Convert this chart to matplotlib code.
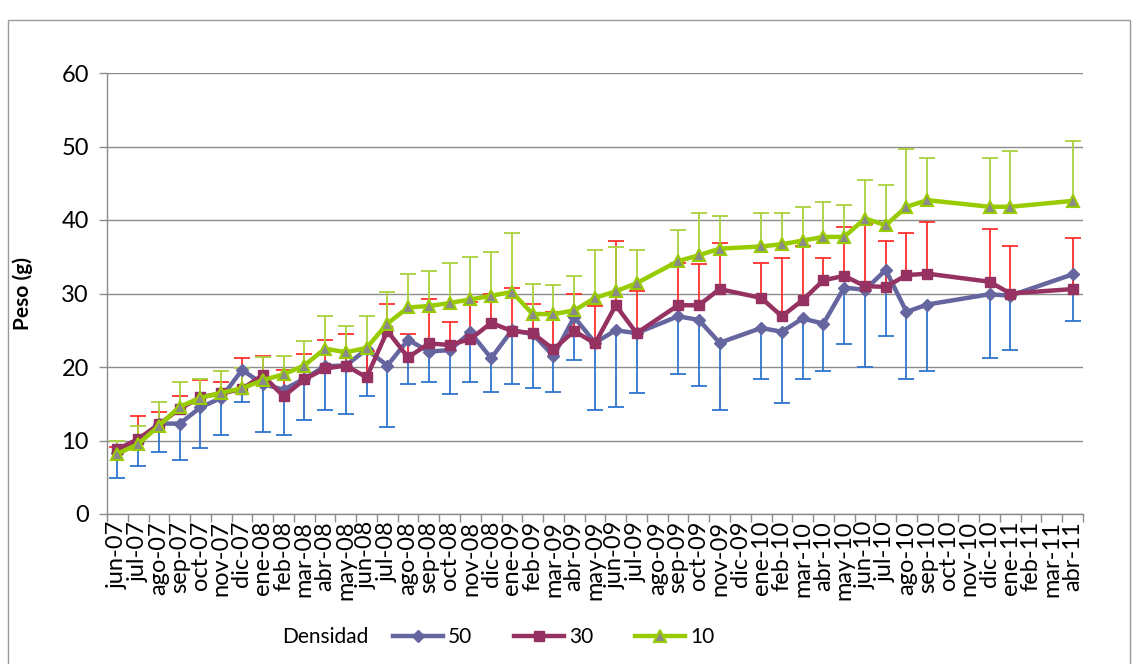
import matplotlib
matplotlib.use("Agg")
import matplotlib.pyplot as plt
from matplotlib.patches import Rectangle

plt.rcParams['font.family'] = ['Lato', 'DejaVu Sans']

# Monthly axis categories
month_labels = [
    "jun-07", "jul-07", "ago-07", "sep-07", "oct-07", "nov-07", "dic-07",
    "ene-08", "feb-08", "mar-08", "abr-08", "may-08", "jun-08", "jul-08",
    "ago-08", "sep-08", "oct-08", "nov-08", "dic-08",
    "ene-09", "feb-09", "mar-09", "abr-09", "may-09", "jun-09", "jul-09",
    "ago-09", "sep-09", "oct-09", "nov-09", "dic-09",
    "ene-10", "feb-10", "mar-10", "abr-10", "may-10", "jun-10", "jul-10",
    "ago-10", "sep-10", "oct-10", "nov-10", "dic-10",
    "ene-11", "feb-11", "mar-11", "abr-11",
]

# Sampling months
sample_months = [
    "jun-07", "jul-07", "ago-07", "sep-07", "oct-07", "nov-07", "dic-07",
    "ene-08", "feb-08", "mar-08", "abr-08", "may-08", "jun-08", "jul-08",
    "ago-08", "sep-08", "oct-08", "nov-08", "dic-08",
    "ene-09", "feb-09", "mar-09", "abr-09", "may-09", "jun-09", "jul-09",
    "sep-09", "oct-09", "nov-09",
    "ene-10", "feb-10", "mar-10", "abr-10", "may-10", "jun-10", "jul-10",
    "ago-10", "sep-10",
    "dic-10", "ene-11", "abr-11",
]

# Mean weight (g) per density
peso_50 = [8.3, 9.9, 12.3, 12.3, 14.5, 15.8, 19.6, 17.7, 16.9, 18.4, 20.1,
           20.2, 22.4, 20.2, 23.7, 22.1, 22.3, 24.7, 21.2, 25.0, 24.5, 21.5,
           26.8, 23.3, 25.0, 24.6, 26.9, 26.4, 23.3, 25.3, 24.8, 26.6, 25.9,
           30.8, 30.5, 33.2, 27.5, 28.5, 29.9, 29.7, 32.6]
peso_30 = [8.8, 10.2, 12.2, 14.3, 15.9, 16.4, 17.0, 18.9, 16.0, 18.3, 19.8,
           20.2, 18.6, 24.9, 21.3, 23.2, 23.0, 23.8, 26.0, 24.9, 24.6, 22.4,
           24.9, 23.2, 28.4, 24.6, 28.4, 28.4, 30.6, 29.4, 26.9, 29.1, 31.8,
           32.4, 31.0, 30.9, 32.5, 32.7, 31.6, 30.0, 30.6]
peso_10 = [8.2, 9.5, 12.0, 14.6, 15.8, 16.5, 17.1, 18.2, 19.0, 20.2, 22.5,
           22.0, 22.6, 25.9, 28.1, 28.3, 28.7, 29.2, 29.7, 30.2, 27.2, 27.2,
           27.7, 29.4, 30.3, 31.4, 34.4, 35.2, 36.1, 36.4, 36.7, 37.2, 37.7,
           37.7, 40.2, 39.3, 41.8, 42.7, 41.8, 41.8, 42.6]

# Standard deviation shown on one side of each series
sd_50 = [3.4, 3.4, 3.8, 4.9, 5.5, 5.1, 4.3, 6.5, 6.2, 5.6, 5.9, 6.6, 6.4, 8.3,
         6.0, 4.2, 6.0, 6.8, 4.6, 7.3, 7.4, 4.9, 5.9, 9.2, 10.4, 8.1, 7.9, 9.0,
         9.2, 6.9, 9.7, 8.2, 6.4, 7.7, 10.5, 9.0, 9.1, 9.0, 8.7, 7.4, 6.3]
sd_30 = [0.3, 3.1, 1.7, 1.7, 2.3, 1.6, 4.2, 2.6, 3.6, 3.5, 3.9, 4.3, 3.6, 3.7,
         3.2, 6.0, 3.1, 5.1, 3.9, 5.9, 4.0, 5.1, 5.1, 5.1, 8.8, 5.8, 5.8, 5.6,
         6.3, 4.8, 7.9, 7.3, 3.0, 6.7, 8.4, 6.3, 5.7, 7.0, 7.2, 6.4, 6.9]
sd_10 = [1.8, 2.5, 3.2, 3.4, 2.5, 2.9, 2.8, 3.1, 2.5, 3.3, 4.5, 3.6, 4.4, 4.3,
         4.6, 4.7, 5.4, 5.7, 6.0, 8.0, 4.1, 3.9, 4.7, 6.5, 6.0, 4.5, 4.2, 5.8,
         4.4, 4.6, 4.3, 4.6, 4.7, 4.3, 5.2, 5.5, 7.9, 5.7, 6.6, 7.6, 8.2]

series_names = ["50", "30", "10"]

C50, C30, C10 = "#65659F", "#953262", "#99CC00"
E50, E30, E10 = "#2F74CF", "#FF3030", "#A9D13C"

W, H = 1137, 664
fig = plt.figure(figsize=(W / 100, H / 100), dpi=100)
ax = fig.add_axes([107 / W, 1 - 514 / H, (1083 - 107) / W, (514 - 73) / H])

xpos = [month_labels.index(m) for m in sample_months]


def one_sided_bars(x, y, err, direction, color):
    ends = [yi + direction * e for yi, e in zip(y, err)]
    ax.vlines(x, y, ends, colors=color, linewidth=1.3, zorder=2)
    ax.plot(x, ends, linestyle="none", marker="_", markersize=11,
            markeredgewidth=1.3, color=color, zorder=2)


one_sided_bars(xpos, peso_50, sd_50, -1, E50)
one_sided_bars(xpos, peso_30, sd_30, +1, E30)
one_sided_bars(xpos, peso_10, sd_10, +1, E10)

l50, = ax.plot(xpos, peso_50, color=C50, lw=3.2, marker="D", ms=6,
               mfc=C50, mec=C50, zorder=3)
l30, = ax.plot(xpos, peso_30, color=C30, lw=3.2, marker="s", ms=7,
               mfc=C30, mec=C30, zorder=4)
l10, = ax.plot(xpos, peso_10, color=C10, lw=3.2, marker="^", ms=8,
               mfc="#8A8A8A", mec=C10, mew=1.5, zorder=5)

# Axes styling
ax.set_xlim(-0.5, len(month_labels) - 0.5)
ax.set_ylim(0, 60)
ax.set_yticks(range(0, 61, 10))
ax.yaxis.grid(True, color="#8C8C8C", linewidth=1.0)
ax.set_axisbelow(True)
for side in ("top", "right"):
    ax.spines[side].set_visible(False)
for side in ("left", "bottom"):
    ax.spines[side].set_color("#8C8C8C")
    ax.spines[side].set_linewidth(1.0)

ax.set_xticks(range(len(month_labels)))
ax.set_xticklabels(month_labels, rotation=90, fontsize=17)
ax.set_xticks([i - 0.5 for i in range(len(month_labels) + 1)], minor=True)
ax.tick_params(axis="x", which="major", length=0, pad=5)
ax.tick_params(axis="x", which="minor", length=6, color="#8C8C8C", width=1)
ax.tick_params(axis="y", length=6, color="#8C8C8C", width=1, labelsize=17,
               pad=7)

ax.set_ylabel("Peso (g)", fontsize=15, fontweight="bold")
ax.yaxis.set_label_coords((33 - 107) / (1083 - 107), 0.5)

# Legend along the bottom
fig.text(282 / W, 1 - 637 / H, "Densidad", fontsize=15, va="center",
         ha="left")
fig.legend([l50, l30, l10], series_names, loc="center left",
           bbox_to_anchor=(393 / W, 1 - 637 / H), ncol=3, frameon=False,
           fontsize=15, handlelength=2.4, handletextpad=0.25,
           columnspacing=2.0, borderpad=0, borderaxespad=0)

# Chart frame
fig.add_artist(Rectangle((8 / W, -0.01), (1130 - 8) / W, 1 - 20 / H + 0.01,
                         transform=fig.transFigure, fill=False,
                         edgecolor="#9A9A9A", linewidth=1.0))

fig.savefig("out.png", dpi=100)
